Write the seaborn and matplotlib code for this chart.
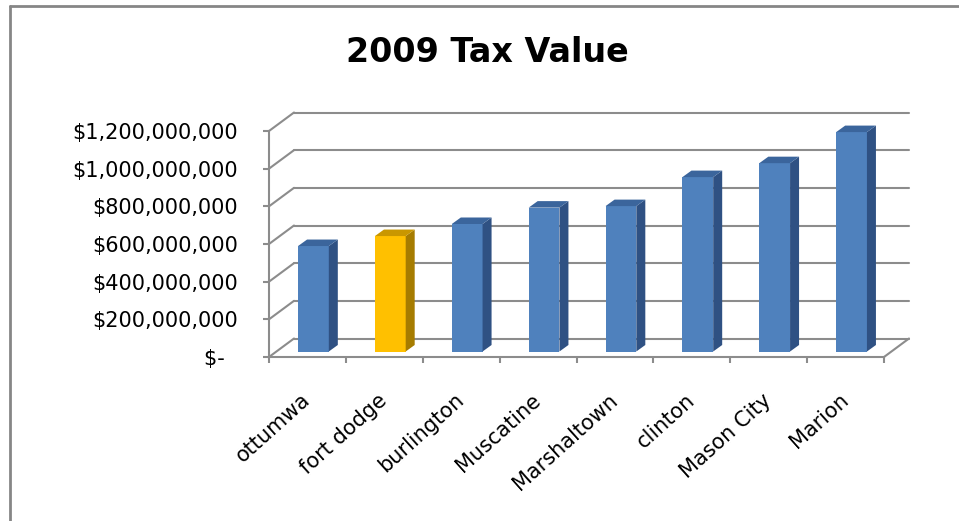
import matplotlib
matplotlib.use('Agg')
import matplotlib.pyplot as plt
import matplotlib.transforms as mtransforms
from matplotlib.patches import Polygon
from matplotlib.lines import Line2D
from matplotlib.ticker import FuncFormatter
import seaborn as sns
import pandas as pd

cities = ['ottumwa', 'fort dodge', 'burlington', 'Muscatine', 'Marshaltown',
          'clinton', 'Mason City', 'Marion']
tax_value = [560e6, 613e6, 677e6, 764e6, 772e6, 926e6, 1000e6, 1165e6]
highlight = 'fort dodge'
y_ticks = [0, 200e6, 400e6, 600e6, 800e6, 1000e6, 1200e6]

# front, side, top shades
blue = ('#4f81bd', '#2f5183', '#3b659c')
gold = ('#ffc000', '#a67c00', '#c99700')
grid_col = '#8c8c8c'

W, H, DPI = 959, 521, 100
WALL_DX, WALL_DY = 25, 18.5     # depth of the fake 3d box (pixels)
BAR_DX, BAR_DY = 6, 5.5         # where the bar front sits inside that depth
DEPTH_X, DEPTH_Y = 9, 6.5       # depth of each bar

sns.set_theme(style='white')
plt.rcParams['font.family'] = ['DejaVu Sans']

df = pd.DataFrame({'city': cities, 'value': tax_value})
shades = {c: (gold if c == highlight else blue) for c in cities}
front_colors = {c: shades[c][0] for c in cities}

fig = plt.figure(figsize=(W / DPI, H / DPI), dpi=DPI)
ax = fig.add_axes([269 / W, 1 - 357 / H, 615 / W, 226 / H])
sns.barplot(data=df, x='city', y='value', hue='city', palette=front_colors,
            width=0.4, legend=False, saturation=1, ax=ax, zorder=3)
ax.set_xlim(-0.5, len(cities) - 0.5)
ax.set_ylim(0, 1.2e9)
ax.set_xlabel('')
ax.set_ylabel('')

# axes frame: only the front left axis and the floor edge
for s in ['top', 'right']:
    ax.spines[s].set_visible(False)
for s in ['left', 'bottom']:
    ax.spines[s].set_color(grid_col)
    ax.spines[s].set_linewidth(1.5)

ax.set_yticks(y_ticks)
ax.yaxis.set_major_formatter(FuncFormatter(lambda v, _: '$-  ' if v == 0 else f'${v:,.0f}'))
ax.tick_params(axis='y', left=True, length=4.5, width=1.5, color=grid_col,
               pad=18, labelsize=15, labelcolor='black')
ax.set_xticks(range(len(cities)))
ax.set_xticks([i - 0.5 for i in range(len(cities) + 1)], minor=True)
ax.set_xticklabels(cities, rotation=42, ha='right', va='center', rotation_mode='anchor')
ax.tick_params(axis='x', which='major', length=0, pad=29, labelsize=15, labelcolor='black')
ax.tick_params(axis='x', which='minor', bottom=True, length=4.5, width=1.5, color=grid_col)

ident = mtransforms.IdentityTransform()
to_px = ax.transData.transform

# back wall gridlines and left wall edges
for yt in y_ticks:
    fx, fy = to_px((-0.5, yt))
    ex, ey = to_px((len(cities) - 0.5, yt))
    ax.add_line(Line2D([fx, fx + WALL_DX], [fy, fy + WALL_DY], color=grid_col, lw=1.5,
                       transform=ident, clip_on=False, zorder=1))
    ax.add_line(Line2D([fx + WALL_DX, ex + WALL_DX], [fy + WALL_DY, ey + WALL_DY],
                       color=grid_col, lw=1.5, transform=ident, clip_on=False, zorder=1))
# right edge of the floor
rx, ry = to_px((len(cities) - 0.5, 0))
ax.add_line(Line2D([rx, rx + WALL_DX], [ry, ry + WALL_DY], color=grid_col, lw=1.5,
                   transform=ident, clip_on=False, zorder=1))

# push bars back into the box and give them side and top faces
shift = mtransforms.Affine2D().translate(BAR_DX, BAR_DY)
bars = [p for p in ax.patches if p.get_height() > 0]
for bar, city in zip(sorted(bars, key=lambda b: b.get_x()), cities):
    bx, w, h = bar.get_x(), bar.get_width(), bar.get_height()
    bar.set_transform(ax.transData + shift)
    bar.set_edgecolor('none')
    x0, y0 = to_px((bx, 0)) + (BAR_DX, BAR_DY)
    x1, y1 = to_px((bx + w, h)) + (BAR_DX, BAR_DY)
    side = [(x1, y0), (x1 + DEPTH_X, y0 + DEPTH_Y), (x1 + DEPTH_X, y1 + DEPTH_Y), (x1, y1)]
    top = [(x0, y1), (x1, y1), (x1 + DEPTH_X, y1 + DEPTH_Y), (x0 + DEPTH_X, y1 + DEPTH_Y)]
    ax.add_patch(Polygon(side, closed=True, facecolor=shades[city][1], edgecolor='none',
                         transform=ident, clip_on=False, zorder=3))
    ax.add_patch(Polygon(top, closed=True, facecolor=shades[city][2], edgecolor='none',
                         transform=ident, clip_on=False, zorder=3))

fig.text(487 / W, 1 - 53 / H, '2009 Tax Value', ha='center', va='center',
         fontsize=24, fontweight='bold', color='black')

# chart area border (left and top edges visible)
fig.add_artist(Line2D([10 / W, 10 / W], [0, 1 - 6 / H], color='#868686', lw=2,
                      transform=fig.transFigure))
fig.add_artist(Line2D([10 / W, 1], [1 - 6 / H, 1 - 6 / H], color='#868686', lw=2,
                      transform=fig.transFigure))

fig.savefig('out.png', dpi=DPI)
